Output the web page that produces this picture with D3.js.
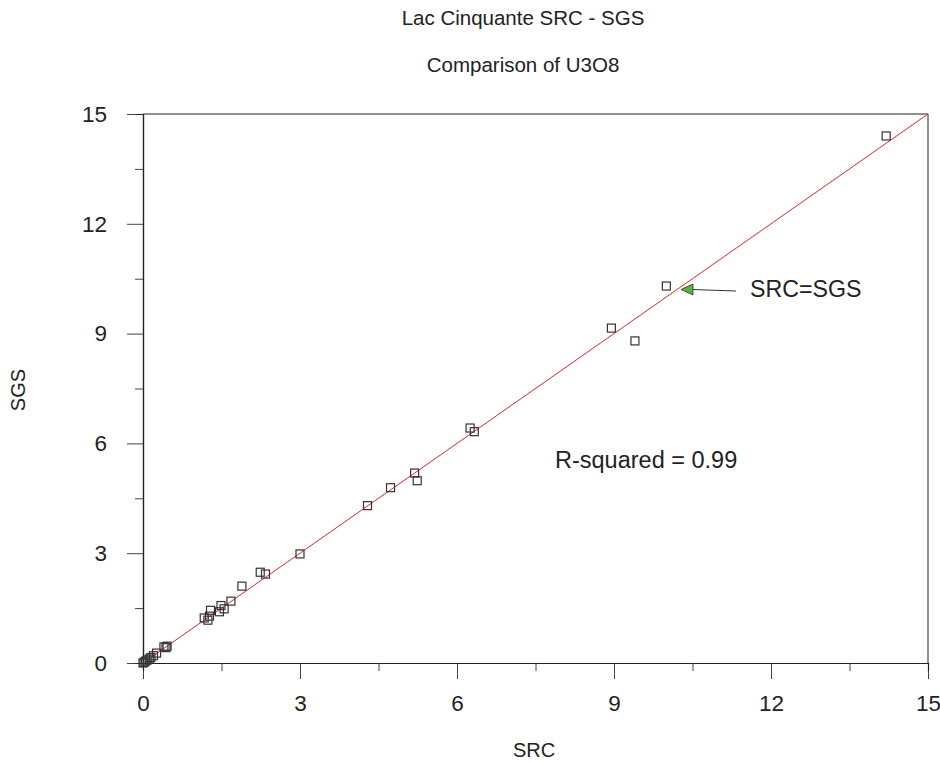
<!DOCTYPE html>
<html><head><meta charset="utf-8">
<script src="https://cdn.jsdelivr.net/npm/d3@7"></script>
<style>
body{margin:0;background:#fff;}
text{font-family:"Liberation Sans",Arial,sans-serif;fill:#222;}
</style></head>
<body><svg id="c" width="940" height="765"></svg>
<script>
const title1 = "Lac Cinquante SRC - SGS";
const title2 = "Comparison of U3O8";
const xLabel = "SRC";
const yLabel = "SGS";
const majorTicks = [0, 3, 6, 9, 12, 15];
const minorTicks = [1.5, 4.5, 7.5, 10.5, 13.5];
const src = [14.2, 10.0, 8.95, 9.4, 6.25, 6.33, 5.19, 5.24, 4.73, 4.29, 3.0, 2.24, 2.34, 1.89, 1.68, 1.49, 1.55, 1.29, 1.46, 1.27, 1.17, 1.24, 0.40, 0.44, 0.46, 0.26, 0.20, 0.15, 0.12, 0.08, 0.05, 0.02, 0.0];
const sgs = [14.4, 10.3, 9.15, 8.8, 6.42, 6.32, 5.19, 4.98, 4.79, 4.3, 2.98, 2.48, 2.43, 2.10, 1.69, 1.57, 1.48, 1.44, 1.40, 1.28, 1.23, 1.17, 0.44, 0.42, 0.46, 0.27, 0.20, 0.15, 0.11, 0.08, 0.05, 0.02, 0.0];
const refLine = [[0, 0], [15, 15]];
const rsqLabel = "R-squared = 0.99";
const refLabel = "SRC=SGS";

const svg = d3.select("#c");
const L = 143, R = 928, T = 114, B = 663;
const x = d3.scaleLinear().domain([0, 15]).range([L, R]);
const y = d3.scaleLinear().domain([0, 15]).range([B, T]);

svg.append("text").attr("x", 523).attr("y", 25).attr("text-anchor", "middle").style("font-size", "20.5px").text(title1);
svg.append("text").attr("x", 523).attr("y", 72).attr("text-anchor", "middle").style("font-size", "20.5px").text(title2);

// frame
svg.append("line").attr("x1", L).attr("x2", R).attr("y1", T).attr("y2", T).attr("stroke", "#222");
svg.append("line").attr("x1", R).attr("x2", R).attr("y1", T).attr("y2", B).attr("stroke", "#222");

// axes
const xa = svg.append("g").attr("transform", `translate(0,${B})`);
xa.call(d3.axisBottom(x).tickValues(majorTicks).tickSize(16).tickSizeOuter(0).tickPadding(16));
xa.append("g").call(d3.axisBottom(x).tickValues(minorTicks).tickSize(8).tickFormat(""));
const ya = svg.append("g").attr("transform", `translate(${L},0)`);
ya.call(d3.axisLeft(y).tickValues(majorTicks).tickSize(16).tickSizeOuter(0).tickPadding(20));
ya.append("g").call(d3.axisLeft(y).tickValues(minorTicks).tickSize(8).tickFormat(""));
svg.selectAll(".domain").attr("stroke", "#222").attr("stroke-width", 1.2);
svg.selectAll(".tick line").attr("stroke", "#444");
svg.selectAll(".tick text").style("font-size", "22.5px").style("font-family", "Liberation Sans, Arial, sans-serif").attr("fill", "#222");
ya.selectAll(".tick text").attr("dy", "0.32em");

svg.append("text").attr("x", 534).attr("y", 757).attr("text-anchor", "middle").style("font-size", "20px").text(xLabel);
svg.append("text").attr("transform", "translate(25,390) rotate(-90)").attr("text-anchor", "middle").style("font-size", "20px").text(yLabel);

// reference line
svg.append("line").attr("x1", x(refLine[0][0])).attr("y1", y(refLine[0][1]))
  .attr("x2", x(refLine[1][0])).attr("y2", y(refLine[1][1]))
  .attr("stroke", "#e8232a").attr("stroke-width", 1);

// points
const s = 8;
svg.append("g").selectAll("rect").data(src.map((v, i) => [v, sgs[i]])).join("rect")
  .attr("x", d => x(d[0]) - s / 2).attr("y", d => y(d[1]) - s / 2)
  .attr("width", s).attr("height", s)
  .attr("fill", "none").attr("stroke", "#333").attr("stroke-width", 1.2);

// annotation arrow
svg.append("line").attr("x1", 692).attr("y1", 289.5).attr("x2", 736).attr("y2", 291).attr("stroke", "#333").attr("stroke-width", 1.2);
svg.append("path").attr("d", "M681,289.5 L693,284 L693,295 Z").attr("fill", "#5cb040").attr("stroke", "#333").attr("stroke-width", 0.8);
svg.append("text").attr("x", 750).attr("y", 289).attr("dy", "0.35em").style("font-size", "23.2px").text(refLabel);
svg.append("text").attr("x", 555).attr("y", 460).attr("dy", "0.35em").style("font-size", "23.5px").text(rsqLabel);
</script></body></html>
